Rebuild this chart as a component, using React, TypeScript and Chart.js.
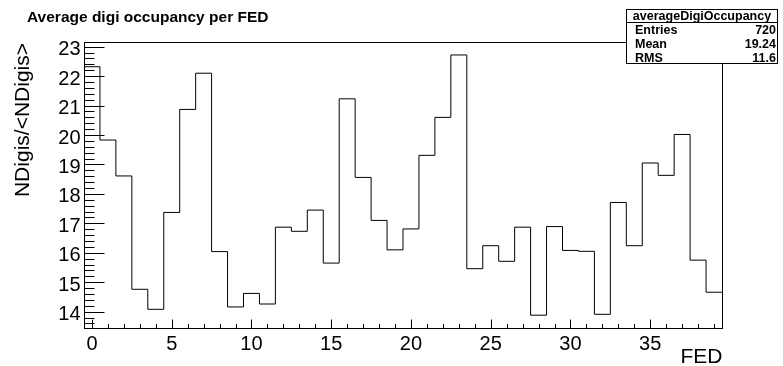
import React, { useEffect, useRef } from "react";
import { Chart, registerables } from "chart.js";

Chart.register(...registerables);

// ---- data ----
const FED_IDS = [
  0, 1, 2, 3, 4, 5, 6, 7, 8, 9, 10, 11, 12, 13, 14, 15, 16, 17, 18, 19,
  20, 21, 22, 23, 24, 25, 26, 27, 28, 29, 30, 31, 32, 33, 34, 35, 36, 37, 38, 39,
];
const OCCUPANCY = [
  22.32, 19.83, 18.61, 14.76, 14.08, 17.37, 20.87, 22.1, 16.04, 14.16,
  14.62, 14.26, 16.87, 16.73, 17.45, 15.65, 21.23, 18.56, 17.1, 16.1,
  16.81, 19.31, 20.6, 22.72, 15.46, 16.24, 15.71, 16.87, 13.88, 16.89,
  16.08, 16.05, 13.91, 17.71, 16.24, 19.05, 18.63, 20.02, 15.75, 14.66,
];
const X_TICK_LABELS = [0, 5, 10, 15, 20, 25, 30, 35];
const Y_TICK_LABELS = [14, 15, 16, 17, 18, 19, 20, 21, 22, 23];
const TITLE = "Average digi occupancy per FED";
const X_TITLE = "FED";
const Y_TITLE = "NDigis/<NDigis>";
const STAT_NAME = "averageDigiOccupancy";
const STAT_LABELS = ["Entries", "Mean", "RMS"];
const STAT_VALUES = ["720", "19.24", "11.6"];

const X_MIN = -0.5;
const X_MAX = 39.5;
const Y_MIN = 13.445;
const Y_MAX = 23.16;

const FONT = '"Liberation Sans", Arial, Helvetica, sans-serif';

const rootPlugin = {
  id: "rootStyle",
  afterDraw(chart: any) {
    const { ctx, chartArea: a, scales } = chart;
    const xs = scales.x;
    const ys = scales.y;
    const L = Math.round(a.left) + 0.5;
    const R = Math.round(a.right) + 0.5;
    const T = Math.round(a.top) + 0.5;
    const B = Math.round(a.bottom) + 0.5;
    ctx.save();
    ctx.strokeStyle = "#000";
    ctx.lineWidth = 1;
    // frame
    ctx.strokeRect(L, T, R - L, B - T);

    // x ticks (inward)
    ctx.beginPath();
    for (let i = 0; i < FED_IDS.length; i++) {
      const v = FED_IDS[i];
      const px = Math.round(xs.getPixelForValue(v)) + 0.5;
      const len = v % 5 === 0 ? 9 : 4.5;
      ctx.moveTo(px, B);
      ctx.lineTo(px, B - len);
    }
    // y ticks (inward)
    for (let k = 68; k <= 115; k++) {
      const v = k / 5;
      if (v < Y_MIN || v > Y_MAX) continue;
      const py = Math.round(ys.getPixelForValue(v)) + 0.5;
      const len = k % 5 === 0 ? 20 : 10;
      ctx.moveTo(L, py);
      ctx.lineTo(L + len, py);
    }
    ctx.stroke();

    // tick labels
    ctx.fillStyle = "#000";
    ctx.font = `20px ${FONT}`;
    ctx.textAlign = "center";
    ctx.textBaseline = "alphabetic";
    X_TICK_LABELS.forEach((v) => {
      ctx.fillText(String(v), xs.getPixelForValue(v), 349.5);
    });
    ctx.textAlign = "right";
    Y_TICK_LABELS.forEach((v) => {
      ctx.fillText(String(v), 80.5, ys.getPixelForValue(v) + 8.5);
    });

    // axis titles
    ctx.font = `21px ${FONT}`;
    ctx.textAlign = "right";
    ctx.fillText(X_TITLE, R, 362.5);
    ctx.save();
    ctx.translate(28.5, 43);
    ctx.rotate(-Math.PI / 2);
    ctx.textAlign = "right";
    ctx.fillText(Y_TITLE, 0, 0);
    ctx.restore();

    // title
    ctx.font = `bold 15.5px ${FONT}`;
    ctx.textAlign = "left";
    ctx.fillText(TITLE, 27, 21.5);

    // stats box
    const bx = 626.5, by = 9.5, bw = 151, bh = 54;
    ctx.fillStyle = "#fff";
    ctx.fillRect(bx, by, bw, bh);
    ctx.strokeRect(bx, by, bw, bh);
    ctx.beginPath();
    ctx.moveTo(bx, 22.5);
    ctx.lineTo(bx + bw, 22.5);
    ctx.stroke();
    ctx.fillStyle = "#000";
    ctx.font = `bold 12.5px ${FONT}`;
    ctx.textAlign = "center";
    ctx.fillText(STAT_NAME, bx + bw / 2, 20);
    const rows = [34, 48, 62];
    STAT_LABELS.forEach((s, i) => {
      ctx.textAlign = "left";
      ctx.fillText(s, 635, rows[i]);
      ctx.textAlign = "right";
      ctx.fillText(STAT_VALUES[i], 776, rows[i]);
    });
    ctx.restore();
  },
};

export default function App() {
  const ref = useRef<HTMLCanvasElement | null>(null);
  useEffect(() => {
    if (!ref.current) return;
    const points = FED_IDS.map((id, i) => ({ x: id - 0.5, y: OCCUPANCY[i] }));
    points.push({
      x: FED_IDS[FED_IDS.length - 1] + 0.5,
      y: OCCUPANCY[OCCUPANCY.length - 1],
    });
    const chart = new Chart(ref.current, {
      type: "line",
      data: {
        datasets: [
          {
            data: points,
            stepped: "before",
            borderColor: "#000",
            borderWidth: 1,
            pointRadius: 0,
            fill: false,
            tension: 0,
          },
        ],
      },
      options: {
        animation: false,
        responsive: false,
        devicePixelRatio: 1,
        events: [],
        layout: { padding: { left: 0, top: 42, right: 61, bottom: 0 } },
        plugins: {
          legend: { display: false },
          tooltip: { enabled: false },
          title: { display: false },
        },
        scales: {
          x: {
            type: "linear",
            min: X_MIN,
            max: X_MAX,
            grid: { display: false, drawTicks: false },
            border: { display: false },
            ticks: { display: false, stepSize: 5, includeBounds: false },
            afterFit: (s: any) => {
              s.height = 38;
            },
          },
          y: {
            type: "linear",
            min: Y_MIN,
            max: Y_MAX,
            grid: { display: false, drawTicks: false },
            border: { display: false },
            ticks: { display: false, stepSize: 1, includeBounds: false },
            afterFit: (s: any) => {
              s.width = 84;
            },
          },
        },
      },
      plugins: [rootPlugin],
    });
    return () => chart.destroy();
  }, []);
  return (
    <div
      style={{
        position: "fixed",
        left: 0,
        top: 0,
        width: 783,
        height: 366,
        background: "#fff",
      }}
    >
      <canvas ref={ref} width={783} height={366} style={{ width: 783, height: 366 }} />
    </div>
  );
}
